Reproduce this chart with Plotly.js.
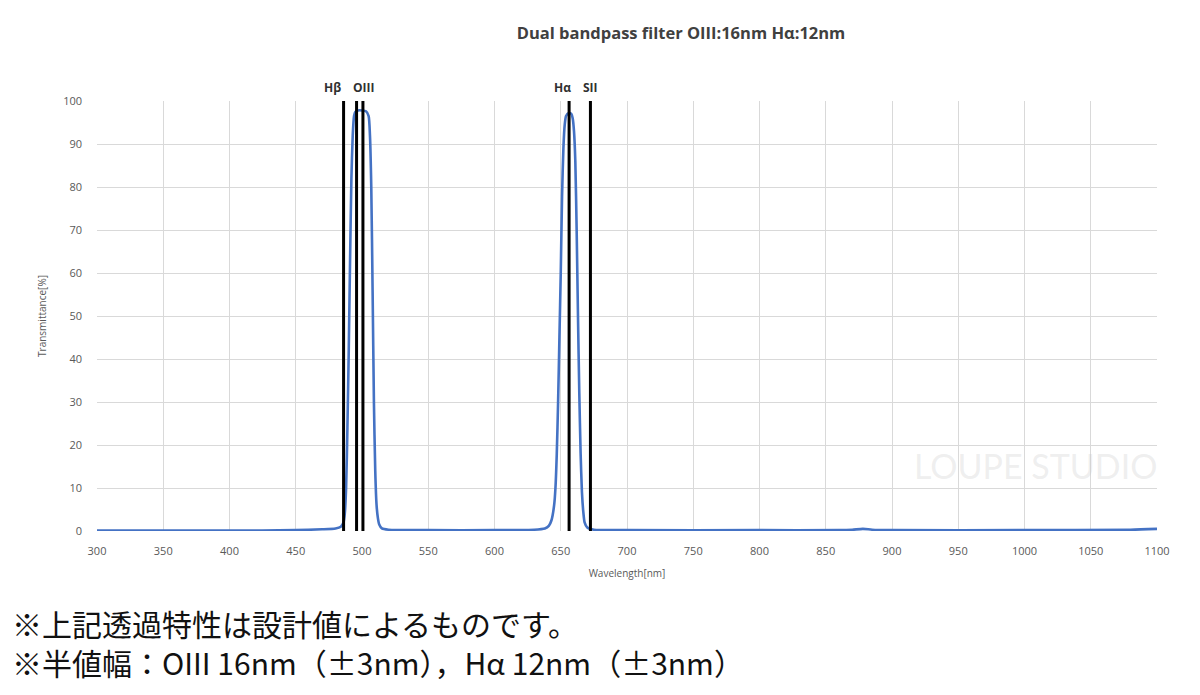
<!DOCTYPE html>
<html>
<head>
<meta charset="utf-8">
<script src="https://cdn.plot.ly/plotly-3.0.1.min.js"></script>
<style>
html,body{margin:0;padding:0;background:#fff;}
#chart{width:1200px;height:695px;}
</style>
</head>
<body>
<div id="chart"></div>
<script>
// Data
const wavelength = [300,350,400,450,470,480,484,486,487,488,489,490,491,492,493,494,495,497,500,503,505,506,507,508,509,510,511,512,513,515,520,550,600,630,638,641,643,645,646,647,648,649,650,651,652,653,654,656,658,659,660,661,662,663,664,665,666,667,668,670,675,700,800,860,870,878,885,900,1000,1080,1100];
const transmittance = [0.1,0.1,0.1,0.2,0.4,0.6,1.0,2.0,4,10,24,42,63,82,92,96.5,97.5,97.8,97.8,97.6,96.5,92,80,56,30,14,6,3,1.5,0.6,0.3,0.2,0.2,0.3,0.6,1.2,2.5,6,10,18,30,45,60,78,89,94.5,96.5,97.2,97,96,93,86,70,50,32,18,9,4.5,2,0.8,0.3,0.2,0.2,0.2,0.3,0.5,0.3,0.2,0.2,0.3,0.5];
const lineNames = ["Hβ","OIII","OIII","Hα","SII"];
const lineWavelengths = [486.1,495.9,500.7,656.3,672.4];
const labelTexts = ["Hβ","OIII","Hα","SII"];
const labelWavelengths = [478,501.5,651.5,672.8];
const xTicks = [300,350,400,450,500,550,600,650,700,750,800,850,900,950,1000,1050,1100];
const yTicks = [0,10,20,30,40,50,60,70,80,90,100];
const titleText = "Dual bandpass filter OIII:16nm Hα:12nm";
const note1 = "※上記透過特性は設計値によるものです。";
const note2 = "※半値幅：OIII 16nm（±3nm），Hα 12nm（±3nm）";

// plot area in pixels (used to place paper-referenced texts)
const PL = 97, PR = 1157, PT = 101, PB = 531;
const px = v => (v - PL) / (PR - PL);
const py = v => (PB - v) / (PB - PT);

const traces = [];
traces.push({
  x: wavelength, y: transmittance, type: 'scatter', mode: 'lines',
  line: {color: '#4472C4', width: 2.6, shape: 'spline', smoothing: 0.6},
  showlegend: false
});
lineWavelengths.forEach((w, i) => {
  traces.push({
    x: [w, w], y: [0, 100], type: 'scatter', mode: 'lines',
    line: {color: '#000000', width: 3}, name: lineNames[i], showlegend: false
  });
});

const annotations = labelTexts.map((t, i) => ({
  x: labelWavelengths[i], y: 1, xref: 'x', yref: 'paper',
  yanchor: 'bottom', xanchor: 'center', yshift: 3,
  text: '<b>' + t + '</b>', showarrow: false,
  font: {family: 'Open Sans, sans-serif', size: 12, color: '#303030'}
}));
annotations.push({
  x: px(10), y: py(642), xref: 'paper', yref: 'paper',
  xanchor: 'left', yanchor: 'middle',
  text: note1 + '<br>' + note2, showarrow: false, align: 'left',
  font: {family: 'Noto Sans CJK JP, sans-serif', size: 30, color: '#111111'}
});
annotations.push({
  x: px(1035), y: py(465), xref: 'paper', yref: 'paper',
  xanchor: 'center', yanchor: 'middle',
  text: 'LOUPE STUDIO', showarrow: false,
  font: {family: 'Lato, sans-serif', size: 34, color: 'rgba(200,200,200,0.3)'}
});

const layout = {
  width: 1200, height: 695,
  paper_bgcolor: '#ffffff', plot_bgcolor: '#ffffff',
  margin: {l: PL, r: 1200 - PR, t: PT, b: 695 - PB},
  title: {
    text: '<b>' + titleText + '</b>',
    x: 681/1200, xanchor: 'center', xref: 'container',
    y: 1 - 33/695, yanchor: 'middle', yref: 'container',
    font: {family: 'Open Sans, sans-serif', size: 16.5, color: '#404040'}
  },
  xaxis: {
    range: [300, 1100], tickvals: xTicks, ticktext: xTicks.map(String),
    showgrid: true, gridcolor: '#d9d9d9', gridwidth: 1,
    zeroline: false, showline: false, ticks: '', ticklabelstandoff: 12,
    tickfont: {family: 'Open Sans, sans-serif', size: 11, color: '#595959'},
    title: {text: 'Wavelength[nm]', standoff: 12,
      font: {family: 'Open Sans, sans-serif', size: 10, color: '#595959'}}
  },
  yaxis: {
    range: [0, 100], tickvals: yTicks, ticktext: yTicks.map(String),
    showgrid: true, gridcolor: '#d9d9d9', gridwidth: 1,
    zeroline: false, showline: false, ticks: '', ticklabelstandoff: 14,
    tickfont: {family: 'Open Sans, sans-serif', size: 11, color: '#595959'},
    title: {text: 'Transmittance[%]', standoff: 14,
      font: {family: 'Open Sans, sans-serif', size: 10, color: '#595959'}}
  },
  annotations: annotations,
  showlegend: false
};

Plotly.newPlot('chart', traces, layout, {displayModeBar: false, staticPlot: true});
</script>
</body>
</html>
